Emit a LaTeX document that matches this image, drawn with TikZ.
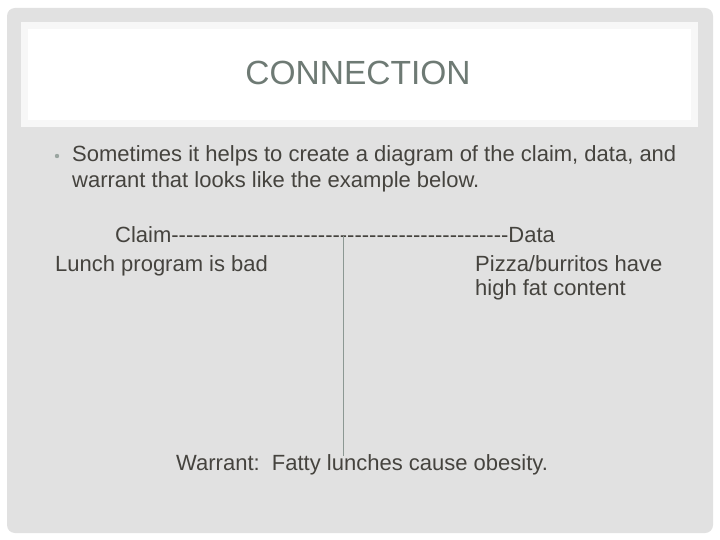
\documentclass[tikz,border=0pt]{standalone}
\usepackage{fontspec}
\setmainfont{Liberation Sans}
\definecolor{bggray}{HTML}{E1E1E1}
\definecolor{titleband}{HTML}{F7F7F7}
\definecolor{titlecol}{HTML}{6E7A74}
\definecolor{txtcol}{HTML}{45433E}
\definecolor{linecol}{HTML}{8C9893}
\definecolor{bulletcol}{HTML}{9AA5A0}
\tikzset{
  body/.style={inner sep=0pt, anchor=base west, text=txtcol, font=\fontsize{22}{26}\selectfont},
}
\begin{document}
\begin{tikzpicture}[x=1pt,y=-1pt]
\useasboundingbox (0,0) rectangle (720,540);
\fill[white] (0,0) rectangle (720,540);
\fill[bggray, rounded corners=8pt] (7,8) rectangle (713,533);
\fill[titleband] (21,22) rectangle (698,127);
\fill[white] (28,29) rectangle (691,120);
\node[inner sep=0pt, anchor=base, text=titlecol, font=\fontsize{33.5}{36}\selectfont] (title) at (358,85) {CONNECTION};
\fill[bulletcol] (57,156) circle (2.2);
\node[body] (b1) at (72,162) {Sometimes it helps to create a diagram of the claim, data, and};
\node[body] (b2) at (72,188) {warrant that looks like the example below.};
\node[body] (claim) at (115,243) {Claim\foreach \i in {1,...,46}{-}Data};
\node[body] (lunch) at (55,271) {Lunch program is bad};
\node[body] (pizza) at (475,271) {Pizza/burritos have};
\node[body] (fat) at (475,295) {high fat content};
\node[body] (warrant) at (176,470) {Warrant:\ \ Fatty lunches cause obesity.};
\coordinate (top) at (343,236);
\coordinate (bot) at (343,456);
\draw[linecol, line width=0.9pt] (top) -- (bot);
\end{tikzpicture}
\end{document}
